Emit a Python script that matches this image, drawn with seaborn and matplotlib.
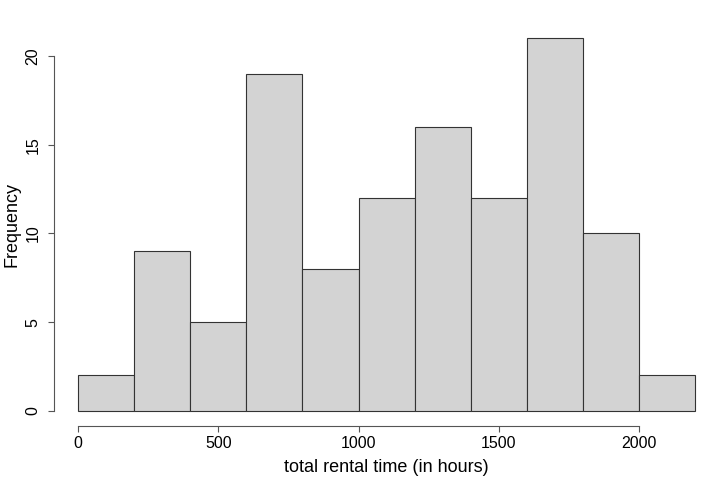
import numpy as np
import matplotlib
matplotlib.use('Agg')
import matplotlib.pyplot as plt
import seaborn as sns

# histogram bins (hours) and counts
bin_edges = [0, 200, 400, 600, 800, 1000, 1200, 1400, 1600, 1800, 2000, 2200]
counts = [2, 9, 5, 19, 8, 12, 16, 12, 21, 10, 2]
x_ticks = [0, 500, 1000, 1500, 2000]
y_ticks = [0, 5, 10, 15, 20]

sns.set_style('white')
plt.rcParams['font.family'] = ['Liberation Sans', 'DejaVu Sans']

mids = (np.array(bin_edges[:-1]) + np.array(bin_edges[1:])) / 2

fig = plt.figure(figsize=(7.2, 4.8), dpi=100)
ax = fig.add_axes([0.0744, 0.1127, 0.925, 0.8388])

sns.histplot(x=mids, weights=counts, bins=bin_edges, color='#D3D3D3',
             edgecolor='#333333', linewidth=0.8, alpha=1, ax=ax)

ax.set_xlim(-88, 2288)
ax.set_ylim(-0.84, 21.84)
ax.set_xticks(x_ticks)
ax.set_yticks(y_ticks)
ax.set_yticklabels([str(v) for v in y_ticks], rotation=90, va='center')

for s in ['top', 'right']:
    ax.spines[s].set_visible(False)
ax.spines['left'].set_bounds(0, 20)
ax.spines['bottom'].set_bounds(0, 2000)
for s in ['left', 'bottom']:
    ax.spines[s].set_color('#555555')
    ax.spines[s].set_linewidth(0.8)

ax.tick_params(axis='both', direction='out', length=4.3, width=0.8,
               color='#555555', labelsize=11.5, pad=3, labelcolor='black',
               bottom=True, left=True)
ax.tick_params(axis='y', pad=5)
ax.set_xlabel('total rental time (in hours)', fontsize=13, labelpad=6, color='black')
ax.set_ylabel('Frequency', fontsize=13, labelpad=4, color='black')
ax.grid(False)

fig.savefig('out.png', dpi=100)
